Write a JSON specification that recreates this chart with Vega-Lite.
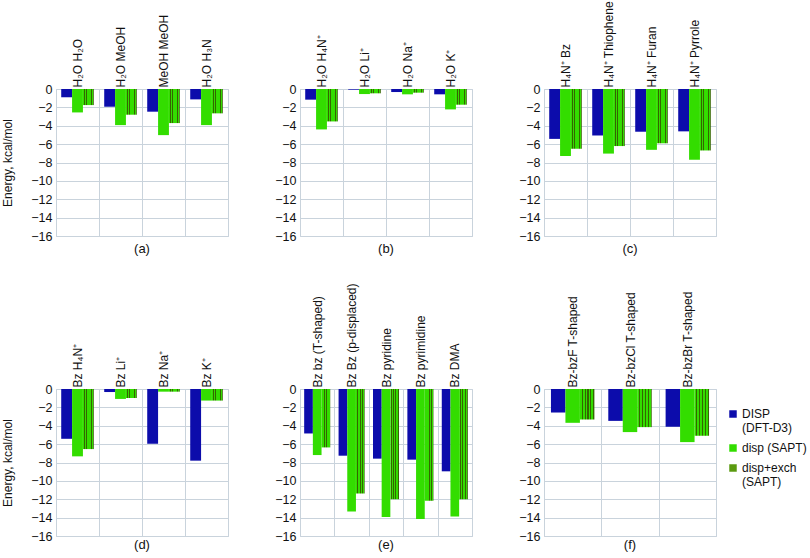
{
  "$schema": "https://vega.github.io/schema/vega-lite/v6.json",
  "background": "white",
  "padding": {"left": 1, "top": 0, "right": 0, "bottom": 2},
  "config": {
    "font": "Liberation Sans",
    "view": {"stroke": "#c9d3dc"},
    "axis": {"labelFont": "Liberation Sans", "labelFontSize": 12, "labelColor": "#111", "ticks": false, "domain": false, "gridColor": "#c9d3dc", "gridOpacity": 1, "titleFontWeight": "normal", "titleFontSize": 12, "titleColor": "#111", "titleFont": "Liberation Sans"},
    "axisX": {"grid": true, "tickBand": "extent", "labelPadding": 2, "labelLimit": 300},
    "axisY": {"grid": true, "labelPadding": 4, "titlePadding": 16, "labelFontSize": 12.5},
    "title": {"orient": "bottom", "fontSize": 13, "fontWeight": "normal", "offset": 0, "dy": -5, "color": "#111", "font": "Liberation Sans"},
    "legend": {"labelFont": "Liberation Sans"}
  },
  "data": {"values": [
    {"panel": "a", "pair": "H₂O H₂O", "series": "DISP (DFT-D3)", "energy": -0.9},
    {"panel": "a", "pair": "H₂O H₂O", "series": "disp (SAPT)", "energy": -2.55},
    {"panel": "a", "pair": "H₂O H₂O", "series": "disp+exch (SAPT)", "energy": -1.75},
    {"panel": "a", "pair": "H₂O MeOH", "series": "DISP (DFT-D3)", "energy": -1.93},
    {"panel": "a", "pair": "H₂O MeOH", "series": "disp (SAPT)", "energy": -3.93},
    {"panel": "a", "pair": "H₂O MeOH", "series": "disp+exch (SAPT)", "energy": -2.8},
    {"panel": "a", "pair": "MeOH MeOH", "series": "DISP (DFT-D3)", "energy": -2.47},
    {"panel": "a", "pair": "MeOH MeOH", "series": "disp (SAPT)", "energy": -5.02},
    {"panel": "a", "pair": "MeOH MeOH", "series": "disp+exch (SAPT)", "energy": -3.71},
    {"panel": "a", "pair": "H₂O H₃N", "series": "DISP (DFT-D3)", "energy": -1.13},
    {"panel": "a", "pair": "H₂O H₃N", "series": "disp (SAPT)", "energy": -3.93},
    {"panel": "a", "pair": "H₂O H₃N", "series": "disp+exch (SAPT)", "energy": -2.65},
    {"panel": "b", "pair": "H₂O H₄N⁺", "series": "DISP (DFT-D3)", "energy": -1.16},
    {"panel": "b", "pair": "H₂O H₄N⁺", "series": "disp (SAPT)", "energy": -4.4},
    {"panel": "b", "pair": "H₂O H₄N⁺", "series": "disp+exch (SAPT)", "energy": -3.53},
    {"panel": "b", "pair": "H₂O Li⁺", "series": "DISP (DFT-D3)", "energy": -0.07},
    {"panel": "b", "pair": "H₂O Li⁺", "series": "disp (SAPT)", "energy": -0.55},
    {"panel": "b", "pair": "H₂O Li⁺", "series": "disp+exch (SAPT)", "energy": -0.47},
    {"panel": "b", "pair": "H₂O Na⁺", "series": "DISP (DFT-D3)", "energy": -0.33},
    {"panel": "b", "pair": "H₂O Na⁺", "series": "disp (SAPT)", "energy": -0.58},
    {"panel": "b", "pair": "H₂O Na⁺", "series": "disp+exch (SAPT)", "energy": -0.4},
    {"panel": "b", "pair": "H₂O K⁺", "series": "DISP (DFT-D3)", "energy": -0.58},
    {"panel": "b", "pair": "H₂O K⁺", "series": "disp (SAPT)", "energy": -2.22},
    {"panel": "b", "pair": "H₂O K⁺", "series": "disp+exch (SAPT)", "energy": -1.71},
    {"panel": "c", "pair": "H₄N⁺ Bz", "series": "DISP (DFT-D3)", "energy": -5.43},
    {"panel": "c", "pair": "H₄N⁺ Bz", "series": "disp (SAPT)", "energy": -7.29},
    {"panel": "c", "pair": "H₄N⁺ Bz", "series": "disp+exch (SAPT)", "energy": -6.5},
    {"panel": "c", "pair": "H₄N⁺ Thiophene", "series": "DISP (DFT-D3)", "energy": -5.06},
    {"panel": "c", "pair": "H₄N⁺ Thiophene", "series": "disp (SAPT)", "energy": -7.03},
    {"panel": "c", "pair": "H₄N⁺ Thiophene", "series": "disp+exch (SAPT)", "energy": -6.21},
    {"panel": "c", "pair": "H₄N⁺ Furan", "series": "DISP (DFT-D3)", "energy": -4.65},
    {"panel": "c", "pair": "H₄N⁺ Furan", "series": "disp (SAPT)", "energy": -6.62},
    {"panel": "c", "pair": "H₄N⁺ Furan", "series": "disp+exch (SAPT)", "energy": -5.91},
    {"panel": "c", "pair": "H₄N⁺ Pyrrole", "series": "DISP (DFT-D3)", "energy": -4.61},
    {"panel": "c", "pair": "H₄N⁺ Pyrrole", "series": "disp (SAPT)", "energy": -7.7},
    {"panel": "c", "pair": "H₄N⁺ Pyrrole", "series": "disp+exch (SAPT)", "energy": -6.69},
    {"panel": "d", "pair": "Bz H₄N⁺", "series": "DISP (DFT-D3)", "energy": -5.42},
    {"panel": "d", "pair": "Bz H₄N⁺", "series": "disp (SAPT)", "energy": -7.33},
    {"panel": "d", "pair": "Bz H₄N⁺", "series": "disp+exch (SAPT)", "energy": -6.54},
    {"panel": "d", "pair": "Bz Li⁺", "series": "DISP (DFT-D3)", "energy": -0.33},
    {"panel": "d", "pair": "Bz Li⁺", "series": "disp (SAPT)", "energy": -1.08},
    {"panel": "d", "pair": "Bz Li⁺", "series": "disp+exch (SAPT)", "energy": -0.98},
    {"panel": "d", "pair": "Bz Na⁺", "series": "DISP (DFT-D3)", "energy": -5.96},
    {"panel": "d", "pair": "Bz Na⁺", "series": "disp (SAPT)", "energy": -0.29},
    {"panel": "d", "pair": "Bz Na⁺", "series": "disp+exch (SAPT)", "energy": -0.29},
    {"panel": "d", "pair": "Bz K⁺", "series": "DISP (DFT-D3)", "energy": -7.8},
    {"panel": "d", "pair": "Bz K⁺", "series": "disp (SAPT)", "energy": -1.26},
    {"panel": "d", "pair": "Bz K⁺", "series": "disp+exch (SAPT)", "energy": -1.26},
    {"panel": "e", "pair": "Bz bz (T-shaped)", "series": "DISP (DFT-D3)", "energy": -4.84},
    {"panel": "e", "pair": "Bz bz (T-shaped)", "series": "disp (SAPT)", "energy": -7.19},
    {"panel": "e", "pair": "Bz bz (T-shaped)", "series": "disp+exch (SAPT)", "energy": -6.36},
    {"panel": "e", "pair": "Bz Bz (p-displaced)", "series": "DISP (DFT-D3)", "energy": -7.26},
    {"panel": "e", "pair": "Bz Bz (p-displaced)", "series": "disp (SAPT)", "energy": -13.33},
    {"panel": "e", "pair": "Bz Bz (p-displaced)", "series": "disp+exch (SAPT)", "energy": -11.38},
    {"panel": "e", "pair": "Bz pyridine", "series": "DISP (DFT-D3)", "energy": -7.58},
    {"panel": "e", "pair": "Bz pyridine", "series": "disp (SAPT)", "energy": -13.94},
    {"panel": "e", "pair": "Bz pyridine", "series": "disp+exch (SAPT)", "energy": -11.99},
    {"panel": "e", "pair": "Bz pyrimidine", "series": "DISP (DFT-D3)", "energy": -7.69},
    {"panel": "e", "pair": "Bz pyrimidine", "series": "disp (SAPT)", "energy": -14.16},
    {"panel": "e", "pair": "Bz pyrimidine", "series": "disp+exch (SAPT)", "energy": -12.17},
    {"panel": "e", "pair": "Bz DMA", "series": "DISP (DFT-D3)", "energy": -8.96},
    {"panel": "e", "pair": "Bz DMA", "series": "disp (SAPT)", "energy": -13.87},
    {"panel": "e", "pair": "Bz DMA", "series": "disp+exch (SAPT)", "energy": -11.99},
    {"panel": "f", "pair": "Bz-bzF T-shaped", "series": "DISP (DFT-D3)", "energy": -2.56},
    {"panel": "f", "pair": "Bz-bzF T-shaped", "series": "disp (SAPT)", "energy": -3.68},
    {"panel": "f", "pair": "Bz-bzF T-shaped", "series": "disp+exch (SAPT)", "energy": -3.32},
    {"panel": "f", "pair": "Bz-bzCl T-shaped", "series": "DISP (DFT-D3)", "energy": -3.47},
    {"panel": "f", "pair": "Bz-bzCl T-shaped", "series": "disp (SAPT)", "energy": -4.69},
    {"panel": "f", "pair": "Bz-bzCl T-shaped", "series": "disp+exch (SAPT)", "energy": -4.15},
    {"panel": "f", "pair": "Bz-bzBr T-shaped", "series": "DISP (DFT-D3)", "energy": -4.12},
    {"panel": "f", "pair": "Bz-bzBr T-shaped", "series": "disp (SAPT)", "energy": -5.78},
    {"panel": "f", "pair": "Bz-bzBr T-shaped", "series": "disp+exch (SAPT)", "energy": -5.09}
  ]},
  "columns": 3,
  "spacing": {"row": 153, "column": 72},
  "bounds": "flush",
  "resolve": {"scale": {"x": "independent", "xOffset": "independent"}},
  "concat": [
    {
      "width": 172, "height": 147, "title": {"text": "(a)", "dy": -4},
      "transform": [{"filter": "datum.panel === 'a'"}],
      "mark": {"type": "bar"},
      "encoding": {
        "x": {"field": "pair", "type": "nominal", "sort": null, "scale": {"paddingInner": 0, "paddingOuter": 0}, "axis": {"orient": "top", "title": null, "labelAngle": -90}},
        "xOffset": {"field": "series", "type": "nominal", "sort": ["DISP (DFT-D3)", "disp (SAPT)", "disp+exch (SAPT)"], "scale": {"paddingInner": 0, "paddingOuter": 0.48}},
        "y": {"field": "energy", "type": "quantitative", "scale": {"domain": [-16, 0], "nice": false}, "axis": {"title": "Energy, kcal/mol", "values": [-16, -14, -12, -10, -8, -6, -4, -2, 0]}},
        "fill": {
          "condition": {"test": "datum.series === 'disp+exch (SAPT)'", "value": {"gradient": "linear", "x1": 0, "y1": 0, "x2": 1, "y2": 0, "stops": [{"offset": 0, "color": "#33dd00"}, {"offset": 0.12, "color": "#33dd00"}, {"offset": 0.12, "color": "#346600"}, {"offset": 0.2, "color": "#346600"}, {"offset": 0.2, "color": "#33dd00"}, {"offset": 0.32, "color": "#33dd00"}, {"offset": 0.32, "color": "#346600"}, {"offset": 0.4, "color": "#346600"}, {"offset": 0.4, "color": "#33dd00"}, {"offset": 0.52, "color": "#33dd00"}, {"offset": 0.52, "color": "#346600"}, {"offset": 0.6, "color": "#346600"}, {"offset": 0.6, "color": "#33dd00"}, {"offset": 0.72, "color": "#33dd00"}, {"offset": 0.72, "color": "#346600"}, {"offset": 0.8, "color": "#346600"}, {"offset": 0.8, "color": "#33dd00"}, {"offset": 0.92, "color": "#33dd00"}, {"offset": 0.92, "color": "#346600"}, {"offset": 1, "color": "#346600"}]}},
          "field": "series", "type": "nominal",
          "scale": {"domain": ["DISP (DFT-D3)", "disp (SAPT)", "disp+exch (SAPT)"], "range": ["#0c0cab", "#33dd00", "#5a9a10"]},
          "legend": {"orient": "none", "legendX": 671, "legendY": 319, "title": null, "symbolType": "square", "symbolSize": 56, "symbolStrokeWidth": 0, "labelFontSize": 12, "labelOffset": 3, "labelColor": "#111", "rowPadding": 8,
            "labelExpr": "datum.label == 'DISP (DFT-D3)' ? ['DISP', '(DFT-D3)'] : datum.label == 'disp+exch (SAPT)' ? ['disp+exch', '(SAPT)'] : datum.label"}
        }
      }
    },
    {
      "width": 172, "height": 147, "title": {"text": "(b)", "dy": -4},
      "transform": [{"filter": "datum.panel === 'b'"}],
      "mark": {"type": "bar"},
      "encoding": {
        "x": {"field": "pair", "type": "nominal", "sort": null, "scale": {"paddingInner": 0, "paddingOuter": 0}, "axis": {"orient": "top", "title": null, "labelAngle": -90}},
        "xOffset": {"field": "series", "type": "nominal", "sort": ["DISP (DFT-D3)", "disp (SAPT)", "disp+exch (SAPT)"], "scale": {"paddingInner": 0, "paddingOuter": 0.48}},
        "y": {"field": "energy", "type": "quantitative", "scale": {"domain": [-16, 0], "nice": false}, "axis": {"title": null, "values": [-16, -14, -12, -10, -8, -6, -4, -2, 0]}},
        "fill": {
          "condition": {"test": "datum.series === 'disp+exch (SAPT)'", "value": {"gradient": "linear", "x1": 0, "y1": 0, "x2": 1, "y2": 0, "stops": [{"offset": 0, "color": "#33dd00"}, {"offset": 0.12, "color": "#33dd00"}, {"offset": 0.12, "color": "#346600"}, {"offset": 0.2, "color": "#346600"}, {"offset": 0.2, "color": "#33dd00"}, {"offset": 0.32, "color": "#33dd00"}, {"offset": 0.32, "color": "#346600"}, {"offset": 0.4, "color": "#346600"}, {"offset": 0.4, "color": "#33dd00"}, {"offset": 0.52, "color": "#33dd00"}, {"offset": 0.52, "color": "#346600"}, {"offset": 0.6, "color": "#346600"}, {"offset": 0.6, "color": "#33dd00"}, {"offset": 0.72, "color": "#33dd00"}, {"offset": 0.72, "color": "#346600"}, {"offset": 0.8, "color": "#346600"}, {"offset": 0.8, "color": "#33dd00"}, {"offset": 0.92, "color": "#33dd00"}, {"offset": 0.92, "color": "#346600"}, {"offset": 1, "color": "#346600"}]}},
          "field": "series", "type": "nominal",
          "scale": {"domain": ["DISP (DFT-D3)", "disp (SAPT)", "disp+exch (SAPT)"], "range": ["#0c0cab", "#33dd00", "#5a9a10"]}
        }
      }
    },
    {
      "width": 172, "height": 147, "title": {"text": "(c)", "dy": -4},
      "transform": [{"filter": "datum.panel === 'c'"}],
      "mark": {"type": "bar"},
      "encoding": {
        "x": {"field": "pair", "type": "nominal", "sort": null, "scale": {"paddingInner": 0, "paddingOuter": 0}, "axis": {"orient": "top", "title": null, "labelAngle": -90}},
        "xOffset": {"field": "series", "type": "nominal", "sort": ["DISP (DFT-D3)", "disp (SAPT)", "disp+exch (SAPT)"], "scale": {"paddingInner": 0, "paddingOuter": 0.48}},
        "y": {"field": "energy", "type": "quantitative", "scale": {"domain": [-16, 0], "nice": false}, "axis": {"title": null, "values": [-16, -14, -12, -10, -8, -6, -4, -2, 0]}},
        "fill": {
          "condition": {"test": "datum.series === 'disp+exch (SAPT)'", "value": {"gradient": "linear", "x1": 0, "y1": 0, "x2": 1, "y2": 0, "stops": [{"offset": 0, "color": "#33dd00"}, {"offset": 0.12, "color": "#33dd00"}, {"offset": 0.12, "color": "#346600"}, {"offset": 0.2, "color": "#346600"}, {"offset": 0.2, "color": "#33dd00"}, {"offset": 0.32, "color": "#33dd00"}, {"offset": 0.32, "color": "#346600"}, {"offset": 0.4, "color": "#346600"}, {"offset": 0.4, "color": "#33dd00"}, {"offset": 0.52, "color": "#33dd00"}, {"offset": 0.52, "color": "#346600"}, {"offset": 0.6, "color": "#346600"}, {"offset": 0.6, "color": "#33dd00"}, {"offset": 0.72, "color": "#33dd00"}, {"offset": 0.72, "color": "#346600"}, {"offset": 0.8, "color": "#346600"}, {"offset": 0.8, "color": "#33dd00"}, {"offset": 0.92, "color": "#33dd00"}, {"offset": 0.92, "color": "#346600"}, {"offset": 1, "color": "#346600"}]}},
          "field": "series", "type": "nominal",
          "scale": {"domain": ["DISP (DFT-D3)", "disp (SAPT)", "disp+exch (SAPT)"], "range": ["#0c0cab", "#33dd00", "#5a9a10"]}
        }
      }
    },
    {
      "width": 172, "height": 147, "title": {"text": "(d)", "dy": -8},
      "transform": [{"filter": "datum.panel === 'd'"}],
      "mark": {"type": "bar"},
      "encoding": {
        "x": {"field": "pair", "type": "nominal", "sort": null, "scale": {"paddingInner": 0, "paddingOuter": 0}, "axis": {"orient": "top", "title": null, "labelAngle": -90}},
        "xOffset": {"field": "series", "type": "nominal", "sort": ["DISP (DFT-D3)", "disp (SAPT)", "disp+exch (SAPT)"], "scale": {"paddingInner": 0, "paddingOuter": 0.48}},
        "y": {"field": "energy", "type": "quantitative", "scale": {"domain": [-16, 0], "nice": false}, "axis": {"title": "Energy, kcal/mol", "values": [-16, -14, -12, -10, -8, -6, -4, -2, 0]}},
        "fill": {
          "condition": {"test": "datum.series === 'disp+exch (SAPT)'", "value": {"gradient": "linear", "x1": 0, "y1": 0, "x2": 1, "y2": 0, "stops": [{"offset": 0, "color": "#33dd00"}, {"offset": 0.12, "color": "#33dd00"}, {"offset": 0.12, "color": "#346600"}, {"offset": 0.2, "color": "#346600"}, {"offset": 0.2, "color": "#33dd00"}, {"offset": 0.32, "color": "#33dd00"}, {"offset": 0.32, "color": "#346600"}, {"offset": 0.4, "color": "#346600"}, {"offset": 0.4, "color": "#33dd00"}, {"offset": 0.52, "color": "#33dd00"}, {"offset": 0.52, "color": "#346600"}, {"offset": 0.6, "color": "#346600"}, {"offset": 0.6, "color": "#33dd00"}, {"offset": 0.72, "color": "#33dd00"}, {"offset": 0.72, "color": "#346600"}, {"offset": 0.8, "color": "#346600"}, {"offset": 0.8, "color": "#33dd00"}, {"offset": 0.92, "color": "#33dd00"}, {"offset": 0.92, "color": "#346600"}, {"offset": 1, "color": "#346600"}]}},
          "field": "series", "type": "nominal",
          "scale": {"domain": ["DISP (DFT-D3)", "disp (SAPT)", "disp+exch (SAPT)"], "range": ["#0c0cab", "#33dd00", "#5a9a10"]}
        }
      }
    },
    {
      "width": 172, "height": 147, "title": {"text": "(e)", "dy": -8},
      "transform": [{"filter": "datum.panel === 'e'"}],
      "mark": {"type": "bar"},
      "encoding": {
        "x": {"field": "pair", "type": "nominal", "sort": null, "scale": {"paddingInner": 0, "paddingOuter": 0}, "axis": {"orient": "top", "title": null, "labelAngle": -90}},
        "xOffset": {"field": "series", "type": "nominal", "sort": ["DISP (DFT-D3)", "disp (SAPT)", "disp+exch (SAPT)"], "scale": {"paddingInner": 0, "paddingOuter": 0.48}},
        "y": {"field": "energy", "type": "quantitative", "scale": {"domain": [-16, 0], "nice": false}, "axis": {"title": null, "values": [-16, -14, -12, -10, -8, -6, -4, -2, 0]}},
        "fill": {
          "condition": {"test": "datum.series === 'disp+exch (SAPT)'", "value": {"gradient": "linear", "x1": 0, "y1": 0, "x2": 1, "y2": 0, "stops": [{"offset": 0, "color": "#33dd00"}, {"offset": 0.12, "color": "#33dd00"}, {"offset": 0.12, "color": "#346600"}, {"offset": 0.2, "color": "#346600"}, {"offset": 0.2, "color": "#33dd00"}, {"offset": 0.32, "color": "#33dd00"}, {"offset": 0.32, "color": "#346600"}, {"offset": 0.4, "color": "#346600"}, {"offset": 0.4, "color": "#33dd00"}, {"offset": 0.52, "color": "#33dd00"}, {"offset": 0.52, "color": "#346600"}, {"offset": 0.6, "color": "#346600"}, {"offset": 0.6, "color": "#33dd00"}, {"offset": 0.72, "color": "#33dd00"}, {"offset": 0.72, "color": "#346600"}, {"offset": 0.8, "color": "#346600"}, {"offset": 0.8, "color": "#33dd00"}, {"offset": 0.92, "color": "#33dd00"}, {"offset": 0.92, "color": "#346600"}, {"offset": 1, "color": "#346600"}]}},
          "field": "series", "type": "nominal",
          "scale": {"domain": ["DISP (DFT-D3)", "disp (SAPT)", "disp+exch (SAPT)"], "range": ["#0c0cab", "#33dd00", "#5a9a10"]}
        }
      }
    },
    {
      "width": 172, "height": 147, "title": {"text": "(f)", "dy": -8},
      "transform": [{"filter": "datum.panel === 'f'"}],
      "mark": {"type": "bar"},
      "encoding": {
        "x": {"field": "pair", "type": "nominal", "sort": null, "scale": {"paddingInner": 0, "paddingOuter": 0}, "axis": {"orient": "top", "title": null, "labelAngle": -90}},
        "xOffset": {"field": "series", "type": "nominal", "sort": ["DISP (DFT-D3)", "disp (SAPT)", "disp+exch (SAPT)"], "scale": {"paddingInner": 0, "paddingOuter": 0.48}},
        "y": {"field": "energy", "type": "quantitative", "scale": {"domain": [-16, 0], "nice": false}, "axis": {"title": null, "values": [-16, -14, -12, -10, -8, -6, -4, -2, 0]}},
        "fill": {
          "condition": {"test": "datum.series === 'disp+exch (SAPT)'", "value": {"gradient": "linear", "x1": 0, "y1": 0, "x2": 1, "y2": 0, "stops": [{"offset": 0, "color": "#33dd00"}, {"offset": 0.12, "color": "#33dd00"}, {"offset": 0.12, "color": "#346600"}, {"offset": 0.2, "color": "#346600"}, {"offset": 0.2, "color": "#33dd00"}, {"offset": 0.32, "color": "#33dd00"}, {"offset": 0.32, "color": "#346600"}, {"offset": 0.4, "color": "#346600"}, {"offset": 0.4, "color": "#33dd00"}, {"offset": 0.52, "color": "#33dd00"}, {"offset": 0.52, "color": "#346600"}, {"offset": 0.6, "color": "#346600"}, {"offset": 0.6, "color": "#33dd00"}, {"offset": 0.72, "color": "#33dd00"}, {"offset": 0.72, "color": "#346600"}, {"offset": 0.8, "color": "#346600"}, {"offset": 0.8, "color": "#33dd00"}, {"offset": 0.92, "color": "#33dd00"}, {"offset": 0.92, "color": "#346600"}, {"offset": 1, "color": "#346600"}]}},
          "field": "series", "type": "nominal",
          "scale": {"domain": ["DISP (DFT-D3)", "disp (SAPT)", "disp+exch (SAPT)"], "range": ["#0c0cab", "#33dd00", "#5a9a10"]}
        }
      }
    }
  ]
}
